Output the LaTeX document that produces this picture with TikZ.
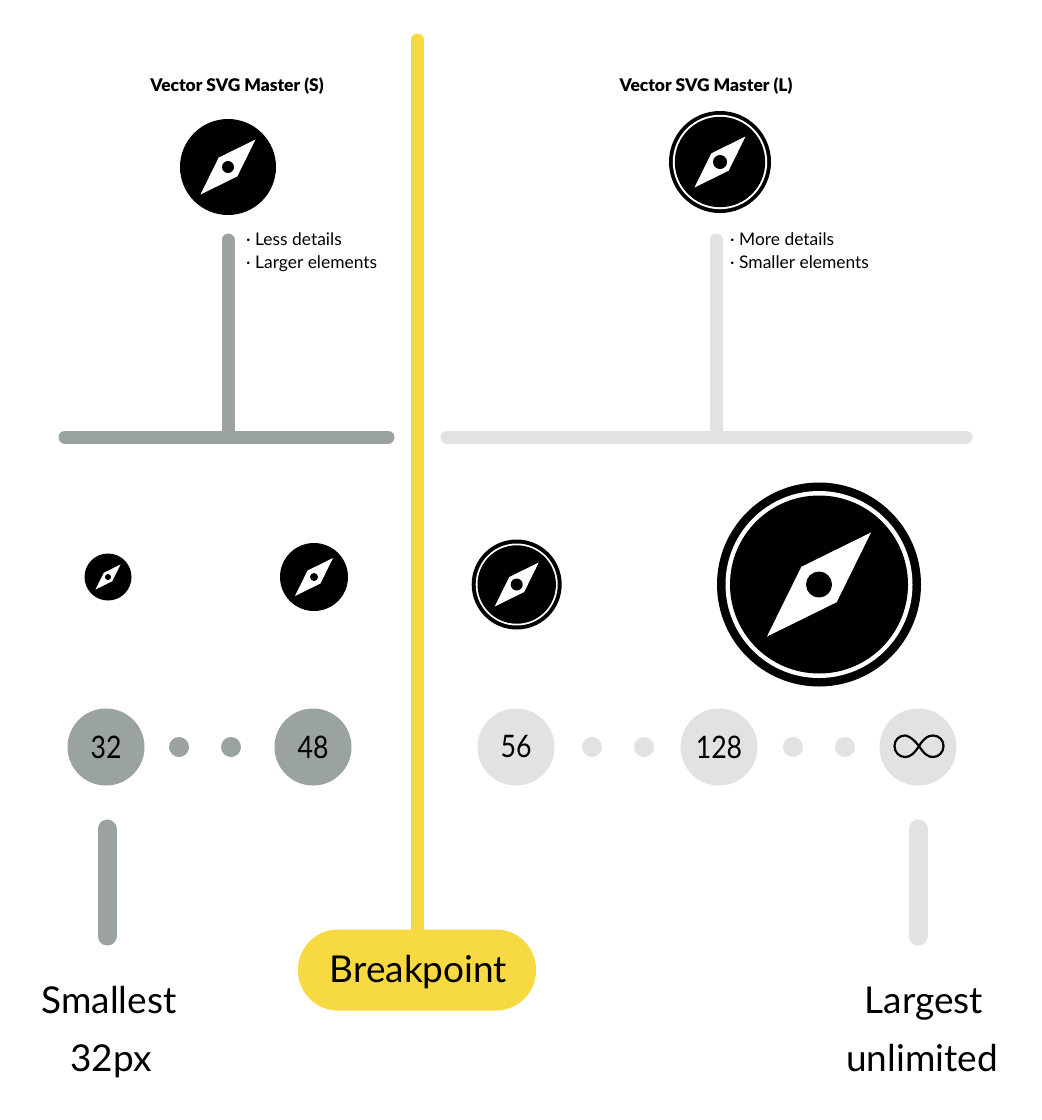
\documentclass[tikz,border=0pt]{standalone}
\usepackage{fontspec}
\setmainfont{Lato}
\newfontfamily\numfont[FakeStretch=0.86]{Lato}
\newfontfamily\titlefont{Lato Black}
\definecolor{dgrey}{HTML}{9AA3A2}
\definecolor{lgrey}{HTML}{E2E2E2}
\definecolor{yel}{HTML}{F7D942}
\tikzset{
  x=1pt,y=-1pt,
  darkbar/.style={draw=dgrey,line width=13pt,line cap=round},
  lightbar/.style={draw=lgrey,line width=13pt,line cap=round},
  yelbar/.style={draw=yel,line width=13pt,line cap=round},
  darkdisc/.style={circle,fill=dgrey,minimum size=77pt,inner sep=0pt,font=\fontsize{31}{31}\selectfont\numfont},
  lightdisc/.style={circle,fill=lgrey,minimum size=77pt,inner sep=0pt,font=\fontsize{31}{31}\selectfont\numfont},
  darkdot/.style={circle,fill=dgrey,minimum size=20pt,inner sep=0pt},
  lightdot/.style={circle,fill=lgrey,minimum size=20pt,inner sep=0pt},
  title/.style={anchor=base,font=\fontsize{17.4}{17.4}\selectfont\titlefont},
  note/.style={anchor=base west,inner sep=0pt,font=\fontsize{17.4}{17.4}\selectfont},
  biglabel/.style={anchor=base,inner sep=0pt,font=\fontsize{37}{37}\selectfont},
}
\newcommand{\needleshape}[5]{%
  \fill[white,shift={(#1,#2)}] (#4,-#4) -- ({-0.34*#4},{-0.34*#4}) -- (-#4,#4) -- ({0.34*#4},{0.34*#4}) -- cycle;
  \fill[black] (#1,#2) circle[radius=#5];
}
\newcommand{\plaincompass}[5]{%
  \fill[black] (#1,#2) circle[radius=#3];
  \needleshape{#1}{#2}{#3}{#4}{#5}
}
\newcommand{\ringcompass}[7]{%
  \fill[black] (#1,#2) circle[radius=#3];
  \fill[white] (#1,#2) circle[radius=#6];
  \fill[black] (#1,#2) circle[radius=#7];
  \needleshape{#1}{#2}{#3}{#4}{#5}
}
\begin{document}
\begin{tikzpicture}
\useasboundingbox (0,0) rectangle (1042,1120);
\fill[white] (0,0) rectangle (1042,1120);
% breakpoint pill
\node[fill=yel,rounded corners=40pt,minimum width=238pt,minimum height=81pt,inner sep=0pt] (bp) at (417,970) {};
\node[biglabel] (bptext) at (418.5,982) {Breakpoint};
\coordinate (bptop) at (417,40);
\draw[yelbar] (bptop) -- (bp.north);
% titles
\node[title] (ts) at (237,91) {Vector SVG Master (S)};
\node[title] (tl) at (706,91) {Vector SVG Master (L)};
% master icons
\plaincompass{228}{167}{48}{27.5}{6}
\ringcompass{720}{162}{51}{25.5}{7}{47.2}{45.2}
% T bars
\coordinate (hsl) at (65,437);
\coordinate (hsr) at (388,437);
\coordinate (hst) at (228,240);
\coordinate (hsm) at (228,437);
\coordinate (hll) at (447,437);
\coordinate (hlr) at (966,437);
\coordinate (hlt) at (716,240);
\coordinate (hlm) at (716,437);
\draw[darkbar] (hsl) -- (hsr);
\draw[darkbar] (hst) -- (hsm);
\draw[lightbar] (hll) -- (hlr);
\draw[lightbar] (hlt) -- (hlm);
% notes
\node[note] (n1) at (246,245) {· Less details};
\node[note] (n2) at (246,268) {· Larger elements};
\node[note] (n3) at (730,245) {· More details};
\node[note] (n4) at (730,268) {· Smaller elements};
% sized icons
\plaincompass{108}{577}{23.5}{12.5}{3}
\plaincompass{314}{577}{34}{19}{4}
\ringcompass{516.7}{584.5}{45}{22}{6}{41}{39.2}
\ringcompass{819}{584.5}{102}{52}{13}{93.5}{89}
% scale row
\node[darkdisc] (d32) at (106,747) {32};
\node[darkdot] (a1) at (179,747) {};
\node[darkdot] (a2) at (231,747) {};
\node[darkdisc] (d48) at (313,747) {48};
\node[lightdisc] (d56) at (516,747) {56};
\node[lightdot] (b1) at (592,747) {};
\node[lightdot] (b2) at (644,747) {};
\node[lightdisc] (d128) at (719,747) {128};
\node[lightdot] (b3) at (793,747) {};
\node[lightdot] (b4) at (845,747) {};
\node[lightdisc] (dinf) at (918,747) {};
% infinity
\draw[black,line width=2.2pt] (919,746) .. controls (911,736) and (906,735.5) .. (905,735.5) .. controls (899,735.5) and (894.5,740) .. (894.5,746) .. controls (894.5,752) and (899,757) .. (905,757) .. controls (910,757) and (914,754) .. (919,746) .. controls (924,738) and (928,735.5) .. (933,735.5) .. controls (939,735.5) and (943.5,740) .. (943.5,746) .. controls (943.5,752) and (939,757) .. (933,757) .. controls (928,757) and (924,754) .. (919,746) -- cycle;
% stems
\coordinate (s1t) at (107,829);
\coordinate (s1b) at (107,936);
\coordinate (s2t) at (918,829);
\coordinate (s2b) at (918,936);
\draw[line width=19pt,dgrey,line cap=round] (s1t) -- (s1b);
\draw[line width=19pt,lgrey,line cap=round] (s2t) -- (s2b);
% bottom labels
\node[biglabel] (l1) at (109,1013) {Smallest};
\node[biglabel] (l2) at (111,1071) {32px};
\node[biglabel] (l3) at (924,1013) {Largest};
\node[biglabel] (l4) at (922,1071) {unlimited};
\end{tikzpicture}
\end{document}
